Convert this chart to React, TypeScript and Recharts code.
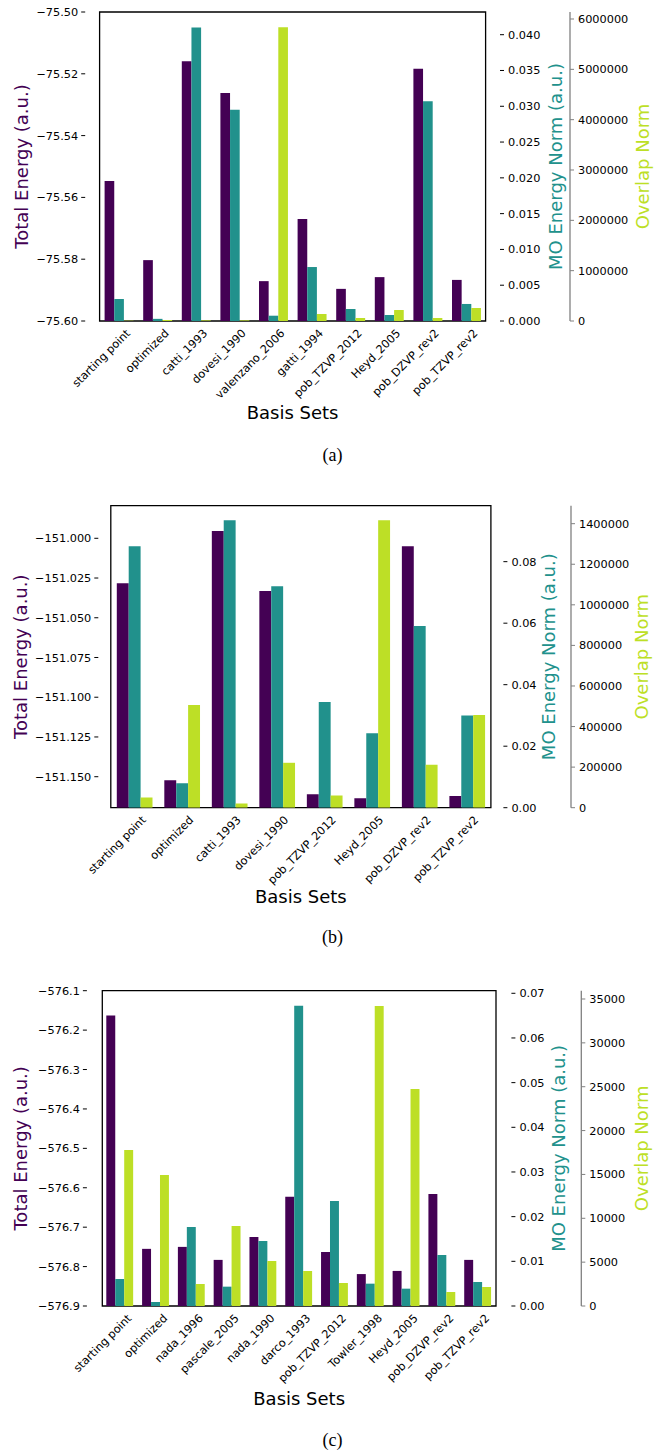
import React from 'react';
import { BarChart, Bar, XAxis, YAxis, ReferenceArea } from 'recharts';

const PURPLE = '#440154';
const TEAL = '#21918c';
const LIME = '#bddf26';
const FONT = '"DejaVu Sans", sans-serif';
const TICK_FS = 11.3;
const LABEL_FS = 18;

// panel (a)
const catsA = ['starting point', 'optimized', 'catti_1993', 'dovesi_1990', 'valenzano_2006', 'gatti_1994', 'pob_TZVP_2012', 'Heyd_2005', 'pob_DZVP_rev2', 'pob_TZVP_rev2'];
const energyA = [-75.5547, -75.5803, -75.5159, -75.5262, -75.5871, -75.567, -75.5896, -75.5858, -75.5184, -75.5867];
const moA = [0.00307, 0.0003, 0.041, 0.0295, 0.00074, 0.00754, 0.00168, 0.00084, 0.0307, 0.00238];
const overlapA = [6000, 20000, 12000, 12000, 5835000, 139000, 60000, 218000, 60000, 258000];
const energyTicksA = [-75.6, -75.58, -75.56, -75.54, -75.52, -75.5];
const moTicksA = [0, 0.005, 0.01, 0.015, 0.02, 0.025, 0.03, 0.035, 0.04];
const overlapTicksA = [0, 1000000, 2000000, 3000000, 4000000, 5000000, 6000000];

// panel (b)
const catsB = ['starting point', 'optimized', 'catti_1993', 'dovesi_1990', 'pob_TZVP_2012', 'Heyd_2005', 'pob_DZVP_rev2', 'pob_TZVP_rev2'];
const energyB = [-151.0283, -151.1523, -150.9954, -151.0332, -151.161, -151.1635, -151.005, -151.1622];
const moB = [0.085, 0.00793, 0.0935, 0.072, 0.0344, 0.0242, 0.0591, 0.03];
const overlapB = [50700, 506700, 21000, 221400, 60500, 1416700, 211500, 457500];
const energyTicksB = [-151.15, -151.125, -151.1, -151.075, -151.05, -151.025, -151.0];
const moTicksB = [0, 0.02, 0.04, 0.06, 0.08];
const overlapTicksB = [0, 200000, 400000, 600000, 800000, 1000000, 1200000, 1400000];

// panel (c)
const catsC = ['starting point', 'optimized', 'nada_1996', 'pascale_2005', 'nada_1990', 'darco_1993', 'pob_TZVP_2012', 'Towler_1998', 'Heyd_2005', 'pob_DZVP_rev2', 'pob_TZVP_rev2'];
const energyC = [-576.163, -576.755, -576.75, -576.783, -576.725, -576.623, -576.763, -576.819, -576.811, -576.616, -576.783];
const moC = [0.00604, 0.0009, 0.01768, 0.00433, 0.01455, 0.0672, 0.0235, 0.005, 0.00388, 0.01142, 0.00537];
const overlapC = [17785, 14935, 2508, 9121, 5130, 3990, 2622, 34202, 24739, 1596, 2166];
const energyTicksC = [-576.9, -576.8, -576.7, -576.6, -576.5, -576.4, -576.3, -576.2, -576.1];
const moTicksC = [0, 0.01, 0.02, 0.03, 0.04, 0.05, 0.06, 0.07];
const overlapTicksC = [0, 5000, 10000, 15000, 20000, 25000, 30000, 35000];

const minus = (v: number, d: number) => (v < 0 ? '\u2212' : '') + Math.abs(v).toFixed(d);

const XTick = (props: any) => {
  const { x, y, payload } = props;
  return (
    <g transform={`translate(${x + 12},${y + 13})`}>
      <text x={0} y={0} textAnchor="end" transform="rotate(-45)" fontSize={TICK_FS} fontFamily={FONT} fill="#000">
        {payload.value}
      </text>
    </g>
  );
};

const vLabel = (text: string, color: string, cx: number) => (props: any) => {
  const vb = props.viewBox || {};
  const cy = vb.y + vb.height / 2;
  return (
    <text x={cx} y={cy} transform={`rotate(-90, ${cx}, ${cy})`} textAnchor="middle" dominantBaseline="central"
      fontSize={LABEL_FS} fontFamily={FONT} fill={color}>
      {text}
    </text>
  );
};

const xLabel = (offset: number) => (props: any) => {
  const vb = props.viewBox || {};
  return (
    <text x={vb.x + vb.width / 2} y={vb.y + offset} textAnchor="middle" fontSize={LABEL_FS} fontFamily={FONT} fill="#000">
      Basis Sets
    </text>
  );
};

const tickStyle = { fontSize: TICK_FS, fontFamily: FONT, fill: '#000' };

function Panel(p: any) {
  const data = p.cats.map((name: string, i: number) => ({
    name,
    energy: [p.eDomain[0], p.energy[i]],
    mo: p.mo[i],
    overlap: p.overlap[i],
  }));
  return (
    <div style={{ position: 'absolute', left: 0, top: p.top, width: 665, height: p.height }}>
      <BarChart width={665} height={p.height} data={data} barGap={0}
        margin={{ top: p.marginTop, right: 0, bottom: 0, left: 0 }}>
        <XAxis dataKey="name" interval={0} height={p.xHeight} padding={{ left: p.pad, right: p.pad }}
          tickLine={false} axisLine={false} tickSize={0} tickMargin={0} tick={<XTick />}
          label={{ content: xLabel(p.xLabelOffset) }} />
        <YAxis yAxisId="e" orientation="left" type="number" width={p.leftW} domain={p.eDomain} ticks={p.eTicks}
          allowDataOverflow axisLine={false} tickSize={4} tickMargin={3} tick={tickStyle}
          tickLine={{ stroke: '#000' }} tickFormatter={(v: number) => minus(v, p.eDec)}
          label={{ content: vLabel('Total Energy (a.u.)', PURPLE, p.leftLabelX) }} />
        <YAxis yAxisId="mo" orientation="right" type="number" width={p.moW} domain={p.moDomain} ticks={p.moTicks}
          allowDataOverflow axisLine={false} tickSize={4} tickMargin={4} tick={tickStyle}
          tickLine={{ stroke: '#000' }} tickFormatter={(v: number) => v.toFixed(p.moDec)}
          label={{ content: vLabel('MO Energy Norm (a.u.)', TEAL, p.moLabelX) }} />
        <YAxis yAxisId="ov" orientation="right" type="number" width={p.ovW} domain={p.ovDomain} ticks={p.ovTicks}
          allowDataOverflow axisLine={{ stroke: '#808080', strokeWidth: 1.3 }} tickSize={4} tickMargin={4}
          tick={tickStyle} tickLine={{ stroke: '#808080' }} tickFormatter={(v: number) => String(v)}
          label={{ content: vLabel('Overlap Norm', LIME, p.ovLabelX) }} />
        <Bar yAxisId="e" dataKey="energy" fill={PURPLE} barSize={p.barSize} isAnimationActive={false} />
        <Bar yAxisId="mo" dataKey="mo" fill={TEAL} barSize={p.barSize} isAnimationActive={false} />
        <Bar yAxisId="ov" dataKey="overlap" fill={LIME} barSize={p.barSize} isAnimationActive={false} />
        <ReferenceArea yAxisId="e" y1={p.eDomain[0]} y2={p.eDomain[1]} fill="none" fillOpacity={0}
          stroke="#000" strokeWidth={1.3} ifOverflow="visible" />
      </BarChart>
      <div style={{ position: 'absolute', left: 0, width: 665, top: p.captionY - 12, height: 24, lineHeight: '24px',
        textAlign: 'center', fontFamily: '"Liberation Serif", serif', fontSize: 18, color: '#000' }}>
        {p.caption}
      </div>
    </div>
  );
}

export default function App() {
  return (
    <div style={{ position: 'absolute', left: 0, top: 0, width: 665, height: 1451, background: '#fff' }}>
      <Panel top={0} height={440} marginTop={12} xHeight={119} leftW={85.2} moW={70} ovW={95} pad={14.4} barSize={9.65}
        cats={catsA} energy={energyA} mo={moA} overlap={overlapA}
        eDomain={[-75.6, -75.5]} eTicks={energyTicksA} eDec={2}
        moDomain={[0, 0.04317]} moTicks={moTicksA} moDec={3}
        ovDomain={[0, 6139000]} ovTicks={overlapTicksA}
        leftLabelX={21} moLabelX={555} ovLabelX={642} xLabelOffset={97.5}
        caption="(a)" captionY={455} />
      <Panel top={490} height={430} marginTop={15.7} xHeight={112.3} leftW={98.3} moW={67.6} ovW={94} pad={12.5} barSize={11.9}
        cats={catsB} energy={energyB} mo={moB} overlap={overlapB}
        eDomain={[-151.1695, -150.9795]} eTicks={energyTicksB} eDec={3}
        moDomain={[0, 0.0982]} moTicks={moTicksB} moDec={2}
        ovDomain={[0, 1488600]} ovTicks={overlapTicksB}
        leftLabelX={21} moLabelX={549} ovLabelX={642} xLabelOffset={94.8}
        caption="(b)" captionY={447} />
      <Panel top={980} height={440} marginTop={10.7} xHeight={114} leftW={86.9} moW={69.9} ovW={83.7} pad={15.4} barSize={8.95}
        cats={catsC} energy={energyC} mo={moC} overlap={overlapC}
        eDomain={[-576.9, -576.1]} eTicks={energyTicksC} eDec={1}
        moDomain={[0, 0.07058]} moTicks={moTicksC} moDec={2}
        ovDomain={[0, 35946]} ovTicks={overlapTicksC}
        leftLabelX={21} moLabelX={559} ovLabelX={642} xLabelOffset={98.5}
        caption="(c)" captionY={460} />
    </div>
  );
}
